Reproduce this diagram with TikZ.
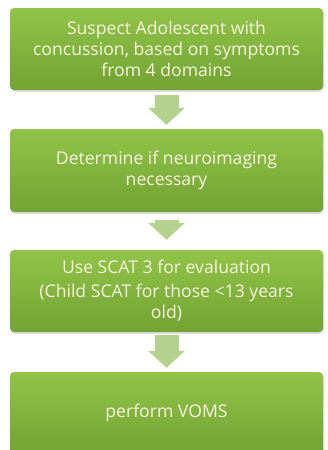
\documentclass[tikz,border=0pt]{standalone}
\usepackage{fontspec}
\setmainfont{Open Sans}
\usetikzlibrary{arrows.meta,shadows}

\definecolor{boxtop}{RGB}{146,195,72}
\definecolor{boxbot}{RGB}{114,163,52}
\definecolor{arrowgreen}{RGB}{180,209,142}
\definecolor{labelcream}{RGB}{246,243,222}

\begin{document}
\begin{tikzpicture}[x=1pt,y=-1pt,
    stepbox/.style={rectangle,rounded corners=4pt,top color=boxtop,bottom color=boxbot,
      minimum width=313pt,inner sep=0pt,align=center,text=labelcream,
      font=\fontsize{17.6}{21}\selectfont,
      drop shadow={opacity=0.25,shadow xshift=1pt,shadow yshift=-2pt}},
    flow/.style={line width=24pt,arrowgreen,-{Triangle[width=36pt,length=17pt]}}
]
\useasboundingbox (0,0) rectangle (328,450);
%%% the four steps, top to bottom
\node[stepbox,minimum height=82pt] (suspect) at (166.5,49)
  {Suspect Adolescent with\\concussion, based on symptoms\\from 4 domains};
\node[stepbox,minimum height=83pt] (imaging) at (166.5,170.5)
  {Determine if neuroimaging\\necessary\hspace{3.2em}};
\node[stepbox,minimum height=82pt] (scat) at (166.5,291)
  {Use SCAT 3 for evaluation\\[3pt](Child SCAT for those <13 years\\old)};
\node[stepbox,minimum height=82pt] (voms) at (166.5,413)
  {perform VOMS};
%%% block arrows between the steps
\draw[flow,shorten <=5pt,shorten >=4pt] (suspect) -- (imaging);
\draw[flow,shorten <=8pt,shorten >=10pt] (imaging) -- (scat);
\draw[flow,shorten <=3pt,shorten >=4pt] (scat) -- (voms);
\end{tikzpicture}
\end{document}
